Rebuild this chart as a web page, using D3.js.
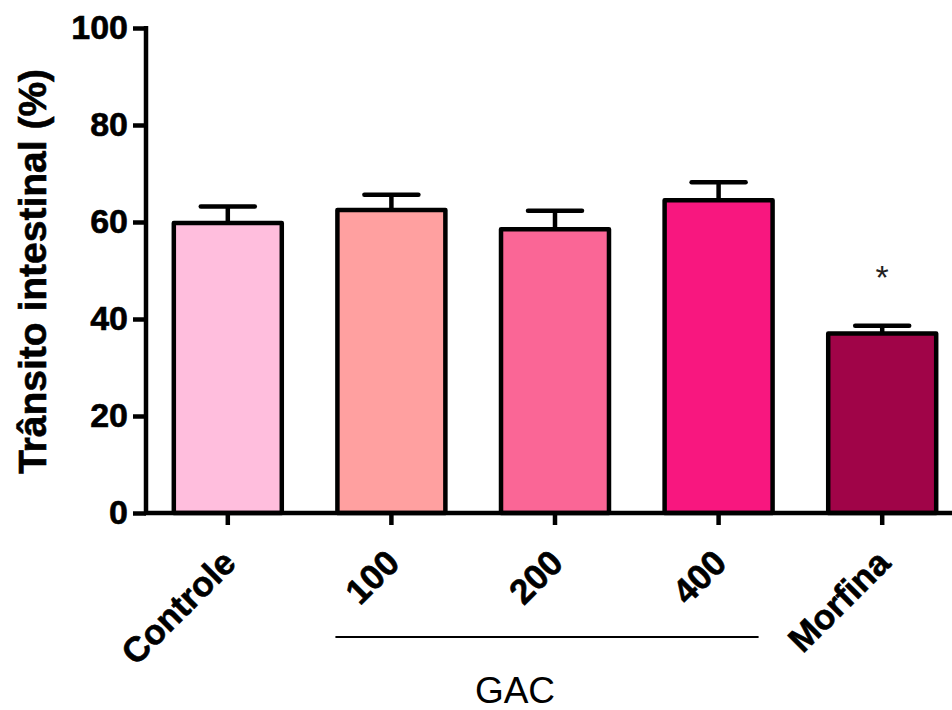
<!DOCTYPE html>
<html>
<head>
<meta charset="utf-8">
<script src="https://cdn.jsdelivr.net/npm/d3@7"></script>
<style>
  html, body { margin: 0; padding: 0; background: #fff; }
  svg { display: block; }
  text { font-family: "Liberation Sans", Arial, sans-serif; }
</style>
</head>
<body>
<svg id="chart" width="952" height="710"></svg>
<script>
// Intestinal transit (%) per treatment group, mean ± SEM
const groups = ["Controle", "100", "200", "400", "Morfina"];
const means = [59.8, 62.5, 58.5, 64.5, 37.0];
const sems = [3.4, 3.1, 3.8, 3.7, 1.6];
const colors = ["#FFBEDD", "#FFA0A0", "#FA6696", "#F8177F", "#A00448"];
const yTicks = [0, 20, 40, 60, 80, 100];
const significant = [false, false, false, false, true];
const gacGroups = ["100", "200", "400"];

const svg = d3.select("#chart");
const x0 = 146, yTop = 28, yBase = 513;

const x = d3.scaleBand()
  .domain(groups)
  .range([x0, 964])
  .paddingInner(0.34)
  .paddingOuter(0.17);

const y = d3.scaleLinear().domain([0, 100]).range([yBase, yTop]);

// Bars
svg.append("g").selectAll("rect")
  .data(groups)
  .join("rect")
  .attr("x", d => x(d))
  .attr("y", (d, i) => y(means[i]))
  .attr("width", x.bandwidth())
  .attr("height", (d, i) => y(0) - y(means[i]))
  .attr("fill", (d, i) => colors[i])
  .attr("stroke", "#000")
  .attr("stroke-width", 4.5)
  .attr("stroke-linejoin", "round");

// Error bars (upper half only)
const capHalf = 27;
const err = svg.append("g").attr("stroke", "#000").attr("stroke-width", 4.5).attr("stroke-linecap", "round");
groups.forEach((g, i) => {
  const cx = x(g) + x.bandwidth() / 2;
  err.append("line")
    .attr("x1", cx).attr("x2", cx)
    .attr("y1", y(means[i])).attr("y2", y(means[i] + sems[i]))
    .attr("stroke-linecap", "butt");
  err.append("line")
    .attr("x1", cx - capHalf).attr("x2", cx + capHalf)
    .attr("y1", y(means[i] + sems[i])).attr("y2", y(means[i] + sems[i]));
});

// Significance markers
groups.forEach((g, i) => {
  if (!significant[i]) return;
  svg.append("text")
    .attr("x", x(g) + x.bandwidth() / 2)
    .attr("y", y(means[i] + sems[i]) - 37)
    .attr("text-anchor", "middle")
    .attr("font-size", 34)
    .attr("fill", "#222")
    .text("*");
});

// Y axis
const yAxis = d3.axisLeft(y).tickValues(yTicks).tickSize(13).tickSizeOuter(0).tickPadding(5);
const gy = svg.append("g").attr("transform", `translate(${x0},0)`).call(yAxis);
gy.select(".domain").remove();
gy.selectAll(".tick line").attr("stroke", "#000").attr("stroke-width", 4.5);
gy.selectAll(".tick text")
  .attr("font-size", 34).attr("font-weight", "bold").attr("fill", "#000")
  .attr("stroke", "#000").attr("stroke-width", 0.6)
  .attr("font-family", "'Liberation Sans', Arial, sans-serif");
svg.append("line")
  .attr("x1", x0).attr("x2", x0)
  .attr("y1", y(0) + 2).attr("y2", y(100) - 2)
  .attr("stroke", "#000").attr("stroke-width", 4.5);

// X axis
const xAxis = d3.axisBottom(x).tickSize(12).tickSizeOuter(0).tickFormat("");
const gx = svg.append("g").attr("transform", `translate(0,${yBase})`).call(xAxis);
gx.select(".domain").remove();
gx.selectAll(".tick line").attr("stroke", "#000").attr("stroke-width", 4.5);
svg.append("line")
  .attr("x1", x0 - 2).attr("x2", 952)
  .attr("y1", yBase).attr("y2", yBase)
  .attr("stroke", "#000").attr("stroke-width", 4.5);

// Rotated category labels
svg.append("g").selectAll("text")
  .data(groups)
  .join("text")
  .attr("transform", d => `translate(${x(d) + x.bandwidth() / 2 + 10},${yBase + 52}) rotate(-45)`)
  .attr("text-anchor", "end")
  .attr("font-size", 35)
  .attr("font-weight", "bold")
  .attr("fill", "#000")
  .attr("stroke", "#000").attr("stroke-width", 0.6)
  .text(d => d);

// Y axis title
svg.append("text")
  .attr("transform", `translate(46,${(yTop + yBase) / 2 + 1}) rotate(-90)`)
  .attr("text-anchor", "middle")
  .attr("font-size", 39)
  .attr("font-weight", "bold")
  .attr("fill", "#000")
  .attr("stroke", "#000").attr("stroke-width", 0.6)
  .text("Trânsito intestinal (%)");

// GAC group bracket
const gFirst = gacGroups[0], gLast = gacGroups[gacGroups.length - 1];
const bx1 = x(gFirst) - 2, bx2 = x(gLast) + x.bandwidth() - 14;
svg.append("line")
  .attr("x1", bx1).attr("x2", bx2)
  .attr("y1", 637).attr("y2", 637)
  .attr("stroke", "#000").attr("stroke-width", 2);
const midGroup = gacGroups[Math.floor(gacGroups.length / 2)];
svg.append("text")
  .attr("x", x(midGroup) + x.bandwidth() / 2 - 40)
  .attr("y", 703)
  .attr("text-anchor", "middle")
  .attr("font-size", 37)
  .attr("fill", "#000")
  .text("GAC");
</script>
</body>
</html>
